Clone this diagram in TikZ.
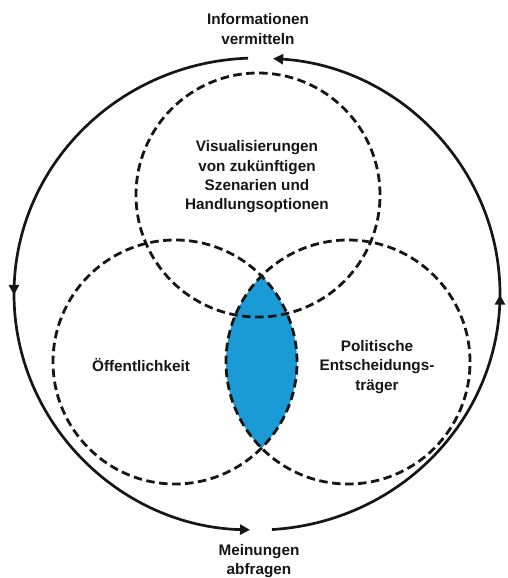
\documentclass[tikz,border=0pt]{standalone}
\usepackage{fontspec}
\setmainfont{Liberation Sans}
\usetikzlibrary{arrows.meta,decorations.markings,calc}
\definecolor{lensblue}{RGB}{27,155,214}
\definecolor{ink}{RGB}{22,22,22}
\begin{document}
\begin{tikzpicture}[x=1pt,y=-1pt,
  venn/.style={dash pattern=on 8.5pt off 4.5pt, line width=2.8pt, draw=ink},
  cyclepath/.style={line width=2.7pt, draw=ink},
  lbl/.style={font=\fontsize{15.3}{19.3}\selectfont\bfseries, align=center, text=ink, inner sep=0pt},
  endtip/.style={-{Triangle[length=10pt,width=10pt]}},
  midtip/.style={postaction={decorate}, decoration={markings, mark=at position 0.5 with {\arrow[ink]{Triangle[length=10pt,width=10pt]}}}}
]
\useasboundingbox (0,0) rectangle (508,578);
\coordinate (C) at (257,294);
\coordinate (T) at (258,195);
\coordinate (L) at (175,362);
\coordinate (R) at (348,362);
\coordinate (a1) at ($(C)+(267.9:243 and 236)$);
\coordinate (a2) at ($(C)+(86.5:243 and 236)$);
% lens
\begin{scope}
  \clip (L) circle[radius=122pt];
  \fill[lensblue] (R) circle[radius=122pt];
\end{scope}
% venn circles
\draw[venn] (T) circle[radius=122pt];
\draw[venn] (L) circle[radius=122pt];
\draw[venn] (R) circle[radius=122pt];
% outer cycle
\draw[cyclepath, endtip, midtip] (a1) arc[start angle=267.9, end angle=91.65, x radius=243, y radius=236];
\draw[cyclepath, endtip, midtip] (a2) arc[start angle=86.5, end angle=-86.2, x radius=243, y radius=236];
% labels
\node[lbl] (top) at (258,29) {Informationen\\vermitteln};
\node[lbl] (bottom) at (259,561) {Meinungen\\abfragen};
\node[lbl] (vis) at (257,177) {Visualisierungen\\von zukünftigen\\Szenarien und\\Handlungsoptionen};
\node[lbl] (oef) at (141,365) {Öffentlichkeit};
\node[lbl] (pol) at (377,367) {Politische\\Entscheidungs-\\träger};
\end{tikzpicture}
\end{document}
